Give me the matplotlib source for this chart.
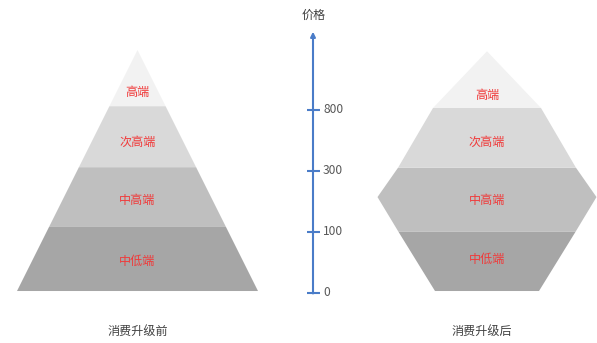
import matplotlib.pyplot as plt
import numpy as np

plt.rcParams['font.family'] = ['Noto Sans CJK SC', 'DejaVu Sans']

# tiers from bottom to top
tiers = ['中低端', '中高端', '次高端', '高端']
tier_colors = ['#a6a6a6', '#bfbfbf', '#d9d9d9', '#f2f2f2']
price_ticks = ['0', '100', '300', '800']
price_levels = [0, 1, 2, 3]
captions = ['消费升级前', '消费升级后']

# outline profiles: level -> half width (px)
before_levels = [0, 3.95]
before_half = [120.5, 0]
before_bounds = [0, 1.05, 2.03, 3.03]
after_levels = [0, 0.97, 1.54, 2.02, 3, 3.93]
after_half = [52, 88.5, 109.5, 89, 54, 0]
after_bounds = [0, 0.97, 2.02, 3.0]

# label heights inside each tier
before_label_levels = [0.49, 1.48, 2.44, 3.26]
after_label_levels = [0.52, 1.48, 2.43, 3.21]

fig = plt.figure(figsize=(5.97, 3.43), dpi=100)
ax = fig.add_axes([0, 0, 1, 1])
ax.set_xlim(0, 597)
ax.set_ylim(-0.852, 4.77)
ax.axis('off')


def draw_shape(cx, levels, half, bounds, label_levels):
    levels = np.array(levels, dtype=float)
    half = np.array(half, dtype=float)
    edges = list(bounds) + [levels[-1]]
    for i, (name, col) in enumerate(zip(tiers, tier_colors)):
        lo, hi = edges[i], edges[i + 1]
        inner = [l for l in levels if lo < l < hi]
        ys = [lo] + inner + [hi]
        hw = np.interp(ys, levels, half)
        left = [(cx - w, y) for y, w in zip(ys, hw)]
        right = [(cx + w, y) for y, w in zip(ys[::-1], hw[::-1])]
        ax.add_patch(plt.Polygon(left + right, closed=True, facecolor=col,
                                 edgecolor='none'))
        ax.text(cx, label_levels[i], name, color='#f03a3a', fontsize=8.7,
                ha='center', va='center')


draw_shape(137.5, before_levels, before_half, before_bounds,
           before_label_levels)
draw_shape(487, after_levels, after_half, after_bounds, after_label_levels)

# price axis
axis_x = 313
axis_col = '#4a7cc8'
ax.annotate('', xy=(axis_x, 4.25), xytext=(axis_x, -0.04),
            arrowprops=dict(arrowstyle='-|>', color=axis_col, lw=1.5,
                            mutation_scale=7, shrinkA=0, shrinkB=0))
tick_y = np.array(price_levels) - 0.03
ax.hlines(tick_y, axis_x - 6, axis_x + 7, color=axis_col, lw=1.5)
for y, t in zip(tick_y, price_ticks):
    ax.text(axis_x + 10, y, t, color='#595959', fontsize=8.7,
            ha='left', va='center')
ax.text(axis_x + 1, 4.52, '价格', color='#404040', fontsize=8.7,
        ha='center', va='center')

ax.text(137.5, -0.67, captions[0], color='#404040', fontsize=8.7,
        ha='center', va='center')
ax.text(482, -0.67, captions[1], color='#404040', fontsize=8.7,
        ha='center', va='center')

fig.savefig('out.png', dpi=100)
